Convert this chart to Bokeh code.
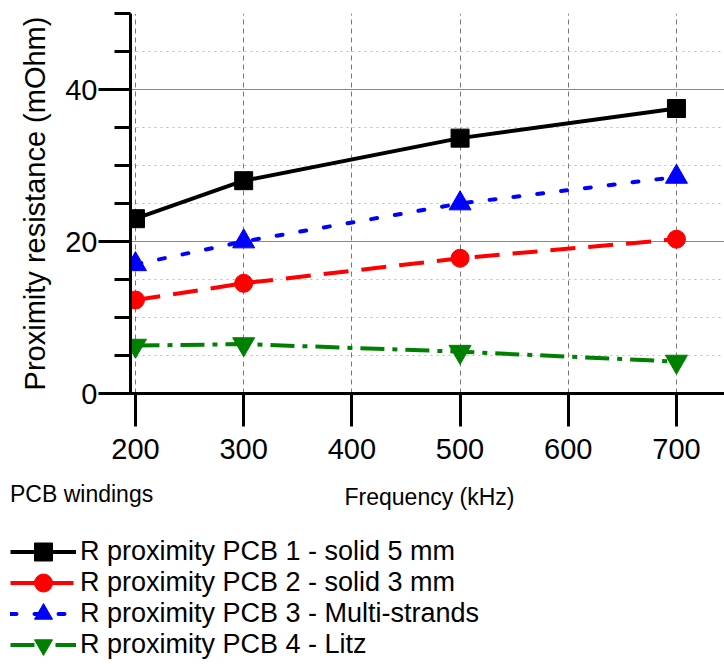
from bokeh.plotting import figure
from bokeh.layouts import column
from bokeh.models import (Range1d, SingleIntervalTicker, Legend, LegendItem, ColumnDataSource, Label)
from bokeh.embed import file_html
from bokeh.resources import INLINE

freq = [200, 300, 500, 700]
pcb1 = [23.0, 28.0, 33.6, 37.5]
pcb2 = [12.3, 14.5, 17.8, 20.3]
pcb3 = [17.0, 20.0, 25.0, 28.5]
pcb4 = [6.3, 6.5, 5.5, 4.2]
labels = ["R proximity PCB 1 - solid 5 mm", "R proximity PCB 2 - solid 3 mm",
          "R proximity PCB 3 - Multi-strands", "R proximity PCB 4 - Litz"]
x_title = "Frequency (kHz)"
y_title = "Proximity resistance (mOhm)"
legend_title = "PCB windings"

FONT = "Liberation Sans"

src = ColumnDataSource(dict(f=freq, a=pcb1, b=pcb2, c=pcb3, d=pcb4))

styles = [
    dict(col="a", color="black", dash="solid", cap="butt", marker="square", size=18),
    dict(col="b", color="red", dash="25 13", cap="butt", marker="circle", size=18),
    dict(col="c", color="blue", dash="6 18", cap="round", marker="triangle", size=22),
    dict(col="d", color="green", dash="24 8 5 8", cap="butt", marker="inverted_triangle", size=22),
]


def draw(fig):
    out = []
    for s in styles:
        ln = fig.line("f", s["col"], source=src, line_color=s["color"], line_width=4,
                      line_dash=s["dash"], line_cap=s["cap"])
        mk = fig.scatter("f", s["col"], source=src, marker=s["marker"], size=s["size"],
                         color=s["color"])
        out.append((ln, mk))
    return out


p = figure(width=724, height=470, output_backend="svg", toolbar_location=None,
           x_range=Range1d(195.4, 744.4), y_range=Range1d(0, 50),
           min_border_left=130, min_border_right=0, min_border_top=13, min_border_bottom=77)
p.frame_align = False
p.outline_line_color = None
p.background_fill_color = "white"

p.xaxis.ticker = SingleIntervalTicker(interval=100, num_minor_ticks=0)
p.yaxis.ticker = SingleIntervalTicker(interval=20, num_minor_ticks=4)

for ax in (p.xaxis, p.yaxis):
    ax.axis_line_width = 3
    ax.axis_line_color = "black"
    ax.major_tick_line_width = 3
    ax.minor_tick_line_width = 3
    ax.major_tick_in = 0
    ax.minor_tick_in = 0
    ax.major_label_text_font = FONT
    ax.major_label_text_font_size = "29px"
    ax.major_label_text_color = "black"
    ax.axis_label_text_font = FONT
    ax.axis_label_text_font_style = "normal"
    ax.axis_label_text_color = "black"

p.xaxis.major_tick_out = 33
p.xaxis.minor_tick_out = 0
p.xaxis.major_label_standoff = 12

p.yaxis.major_tick_out = 32
p.yaxis.minor_tick_out = 16
p.yaxis.major_label_standoff = 1
p.yaxis.axis_label = y_title
p.yaxis.axis_label_text_font_size = "29px"
p.yaxis.axis_label_standoff = 11

p.xgrid.grid_line_color = "#777777"
p.xgrid.grid_line_dash = "5 4"
p.xgrid.grid_line_width = 1
p.ygrid.grid_line_color = "#888888"
p.ygrid.grid_line_width = 1
p.ygrid.minor_grid_line_color = "#bbbbbb"
p.ygrid.minor_grid_line_dash = "2 4"

draw(p)

# lower panel: axis title row and legend
q = figure(width=724, height=194, output_backend="svg", toolbar_location=None,
           x_range=Range1d(0, 1), y_range=Range1d(0, 1),
           x_axis_location=None, y_axis_location=None,
           min_border=0, min_border_left=0, min_border_right=0,
           min_border_top=0, min_border_bottom=0)
q.frame_align = False
q.outline_line_color = None
q.xgrid.visible = False
q.ygrid.visible = False
rs = draw(q)

q.add_layout(Label(x=429, y=168, x_units="screen", y_units="screen", text=x_title,
                   text_font=FONT, text_font_size="23px", text_align="center",
                   text_baseline="middle", text_color="black"))

common = dict(orientation="vertical",
              label_text_font=FONT, label_text_font_size="27px", label_text_color="black",
              glyph_width=66, glyph_height=45, label_height=45, label_standoff=4,
              spacing=17, padding=0, margin=0,
              border_line_color=None, background_fill_alpha=0)

legA = Legend(items=[LegendItem(label=labels[i], renderers=list(rs[i])) for i in (0, 2)],
              location=(10, 28), title=legend_title, title_text_font=FONT,
              title_text_font_size="23px", title_text_font_style="normal",
              title_text_color="black", title_standoff=21, **common)
legB = Legend(items=[LegendItem(label=labels[i], renderers=list(rs[i])) for i in (1, 3)],
              location=(10, -3), **common)
q.add_layout(legA, "center")
q.add_layout(legB, "center")

open("out.html", "w").write(file_html(column(p, q, spacing=0), INLINE))
